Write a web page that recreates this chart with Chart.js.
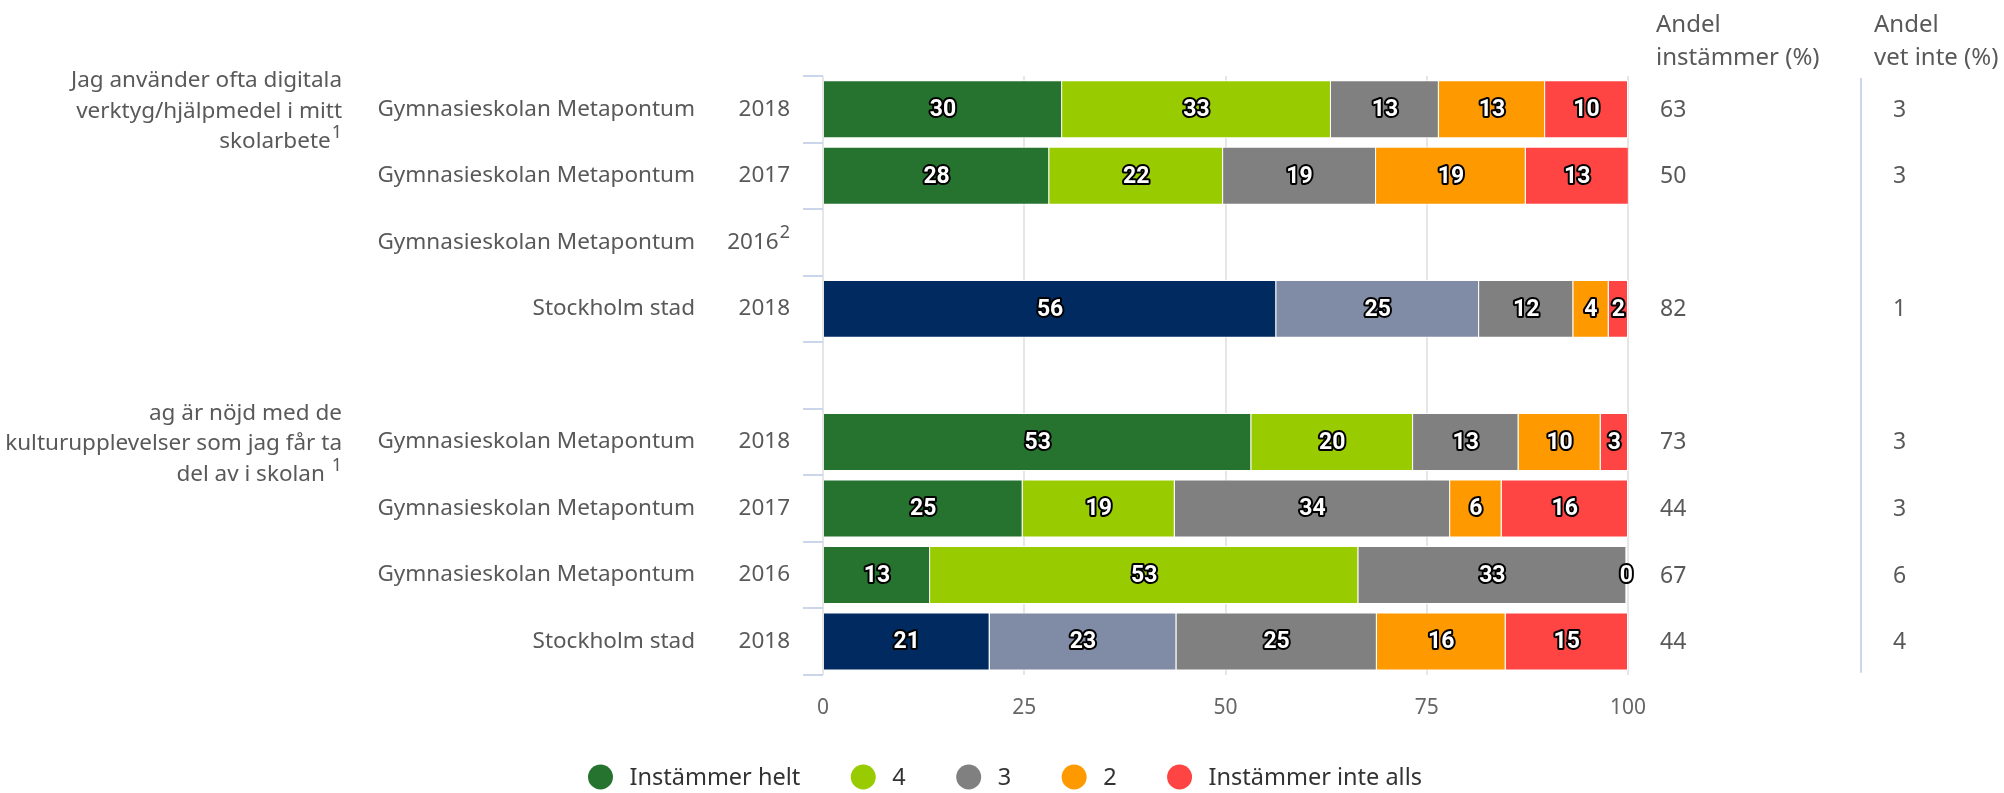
<!DOCTYPE html>
<html>
<head>
<meta charset="utf-8">
<script src="https://cdn.jsdelivr.net/npm/chart.js@4.4.0/dist/chart.umd.min.js"></script>
<style>
  html, body { margin: 0; padding: 0; background: #fff; }
  #wrap { width: 2004px; height: 793px; }
</style>
</head>
<body>
<div id="wrap"><canvas id="myChart" width="2004" height="793"></canvas></div>
<script>
// rows, top to bottom
const rowSchools = ['Gymnasieskolan Metapontum', 'Gymnasieskolan Metapontum', 'Gymnasieskolan Metapontum', 'Stockholm stad', '',
                    'Gymnasieskolan Metapontum', 'Gymnasieskolan Metapontum', 'Gymnasieskolan Metapontum', 'Stockholm stad'];
const rowYears = ['2018', '2017', '2016', '2018', '', '2018', '2017', '2016', '2018'];
const rowYearNotes = ['', '', '2', '', '', '', '', '', ''];
const rowKinds = ['school', 'school', 'school', 'city', 'gap', 'school', 'school', 'school', 'city'];

const questionRows = [0, 5];
const questionTexts = [
    ['Jag använder ofta digitala', 'verktyg/hjälpmedel i mitt', 'skolarbete'],
    ['ag är nöjd med de', 'kulturupplevelser som jag får ta', 'del av i skolan ']
];
const questionNotes = ['1', '1'];

const seriesNames = ['Instämmer helt', '4', '3', '2', 'Instämmer inte alls'];
const helt     = [29.7, 28.1, null, 56.3, null, 53.2, 24.8, 13.3, 20.7];
const fyra     = [33.4, 21.6, null, 25.2, null, 20.1, 18.9, 53.2, 23.2];
const tre      = [13.4, 19.0, null, 11.7, null, 13.1, 34.2, 33.3, 24.9];
const tva      = [13.2, 18.6, null, 4.4, null, 10.2, 6.4, 0, 16.0];
const inteAlls = [10.3, 12.8, null, 2.4, null, 3.4, 15.7, null, 15.2];

const andelInstammer = [63, 50, null, 82, null, 73, 44, 67, 44];
const andelVetInte   = [3, 3, null, 1, null, 3, 3, 6, 4];

const xTicks = [0, 25, 50, 75, 100];

const palettes = {
    school: ['#267330', '#99cc00', '#808080', '#ff9900', '#ff4444'],
    city:   ['#002a60', '#808ba6', '#808080', '#ff9900', '#ff4444'],
    gap:    ['#fff', '#fff', '#fff', '#fff', '#fff']
};

const FONT = '"Noto Sans", "Open Sans", sans-serif';
const LABEL_COLOR = '#595959';

// white numbers with black outline in the middle of every segment
const segmentLabels = {
    id: 'segmentLabels',
    afterDatasetsDraw(chart) {
        const ctx = chart.ctx;
        ctx.save();
        ctx.font = 'bold 23px Roboto, ' + FONT;
        ctx.textAlign = 'center';
        ctx.textBaseline = 'middle';
        ctx.lineJoin = 'round';
        chart.data.datasets.forEach((ds, di) => {
            const meta = chart.getDatasetMeta(di);
            meta.data.forEach((bar, i) => {
                const v = ds.data[i];
                if (v === null || v === undefined) return;
                const p = bar.getProps(['x', 'y', 'base'], true);
                const cx = (p.x + p.base) / 2;
                const txt = String(Math.round(v));
                ctx.lineWidth = 4;
                ctx.strokeStyle = '#000';
                ctx.strokeText(txt, cx, p.y + 1);
                ctx.fillStyle = '#fff';
                ctx.fillText(txt, cx, p.y + 1);
            });
        });
        ctx.restore();
    }
};

function textWithNote(ctx, text, note, rightX, y, size) {
    const noteFont = Math.round(size * 0.8) + 'px ' + FONT;
    let noteW = 0;
    if (note) {
        ctx.font = noteFont;
        noteW = ctx.measureText(note).width + 1;
    }
    ctx.font = size + 'px ' + FONT;
    ctx.textAlign = 'right';
    ctx.fillText(text, rightX - noteW, y);
    if (note) {
        ctx.font = noteFont;
        ctx.fillText(note, rightX, y - size * 0.4);
    }
}

// row labels on the left and the two value columns on the right
const sideTexts = {
    id: 'sideTexts',
    afterDraw(chart) {
        const ctx = chart.ctx;
        const yScale = chart.scales.y;
        ctx.save();
        ctx.fillStyle = LABEL_COLOR;
        ctx.textBaseline = 'middle';

        rowSchools.forEach((name, i) => {
            if (!name) return;
            const y = yScale.getPixelForValue(i);
            textWithNote(ctx, name, '', 695, y, 22.5);
            textWithNote(ctx, rowYears[i], rowYearNotes[i], 790, y, 22.5);
        });

        questionRows.forEach((row, q) => {
            const yc = yScale.getPixelForValue(row) + 2;
            const lines = questionTexts[q];
            lines.forEach((line, k) => {
                const y = yc + (k - (lines.length - 1) / 2) * 30.5;
                const note = k === lines.length - 1 ? questionNotes[q] : '';
                textWithNote(ctx, line, note, 342, y, 22.5);
            });
        });

        // value columns
        ctx.textAlign = 'left';
        ctx.font = '24px ' + FONT;
        ctx.fillText('Andel', 1656, 25);
        ctx.fillText('instämmer (%)', 1656, 58);
        ctx.fillText('Andel', 1874, 25);
        ctx.fillText('vet inte (%)', 1874, 58);

        ctx.font = '23px ' + FONT;
        andelInstammer.forEach((v, i) => {
            if (v === null) return;
            ctx.fillText(String(v), 1660, yScale.getPixelForValue(i) + 1);
        });
        andelVetInte.forEach((v, i) => {
            if (v === null) return;
            ctx.fillText(String(v), 1893, yScale.getPixelForValue(i) + 1);
        });

        ctx.strokeStyle = '#ccd6eb';
        ctx.lineWidth = 2;
        ctx.beginPath();
        ctx.moveTo(1861, yScale.top + 2);
        ctx.lineTo(1861, yScale.bottom - 2);
        ctx.stroke();

        // legend with round markers
        ctx.font = '23.5px ' + FONT;
        const widths = seriesNames.map(s => ctx.measureText(s).width);
        const r = 12.5, gapText = 29, gapNext = 63;
        let total = 0;
        widths.forEach((w, i) => {
            total += r + gapText + w;
            if (i < widths.length - 1) total += gapNext - r;
        });
        let x = 1005 - total / 2;
        const ly = 777;
        seriesNames.forEach((s, i) => {
            const cx = x + r;
            ctx.fillStyle = palettes.school[i];
            ctx.beginPath();
            ctx.arc(cx, ly, r, 0, Math.PI * 2);
            ctx.fill();
            ctx.fillStyle = '#333';
            ctx.fillText(s, cx + gapText, ly + 1);
            x = cx + gapText + widths[i] + gapNext - r;
        });
        ctx.restore();
    }
};

const dataRows = [helt, fyra, tre, tva, inteAlls];

new Chart(document.getElementById('myChart'), {
    type: 'bar',
    data: {
        labels: rowSchools.map((s, i) => (s + ' ' + rowYears[i]).trim()),
        datasets: dataRows.map((values, k) => ({
            label: seriesNames[k],
            data: values,
            backgroundColor: rowKinds.map(kind => palettes[kind][k]),
            borderColor: '#ffffff',
            borderWidth: 1,
            barPercentage: 0.87,
            categoryPercentage: 1.0
        }))
    },
    options: {
        indexAxis: 'y',
        responsive: false,
        animation: false,
        layout: { padding: { top: 76, left: 803, right: 376, bottom: 51 } },
        plugins: {
            legend: { display: false },
            tooltip: { enabled: false }
        },
        scales: {
            x: {
                stacked: true,
                min: 0,
                max: 100,
                afterBuildTicks: axis => { axis.ticks = xTicks.map(v => ({ value: v })); },
                grid: { color: '#e6e6e6', lineWidth: 2, drawTicks: false },
                border: { display: false },
                ticks: {
                    color: '#666',
                    padding: 21,
                    font: { family: FONT, size: 21 }
                }
            },
            y: {
                stacked: true,
                grid: {
                    drawOnChartArea: false,
                    drawTicks: true,
                    tickLength: 20,
                    color: '#ccd6eb',
                    lineWidth: 2
                },
                border: { display: false },
                ticks: { display: false }
            }
        }
    },
    plugins: [segmentLabels, sideTexts]
});
</script>
</body>
</html>
